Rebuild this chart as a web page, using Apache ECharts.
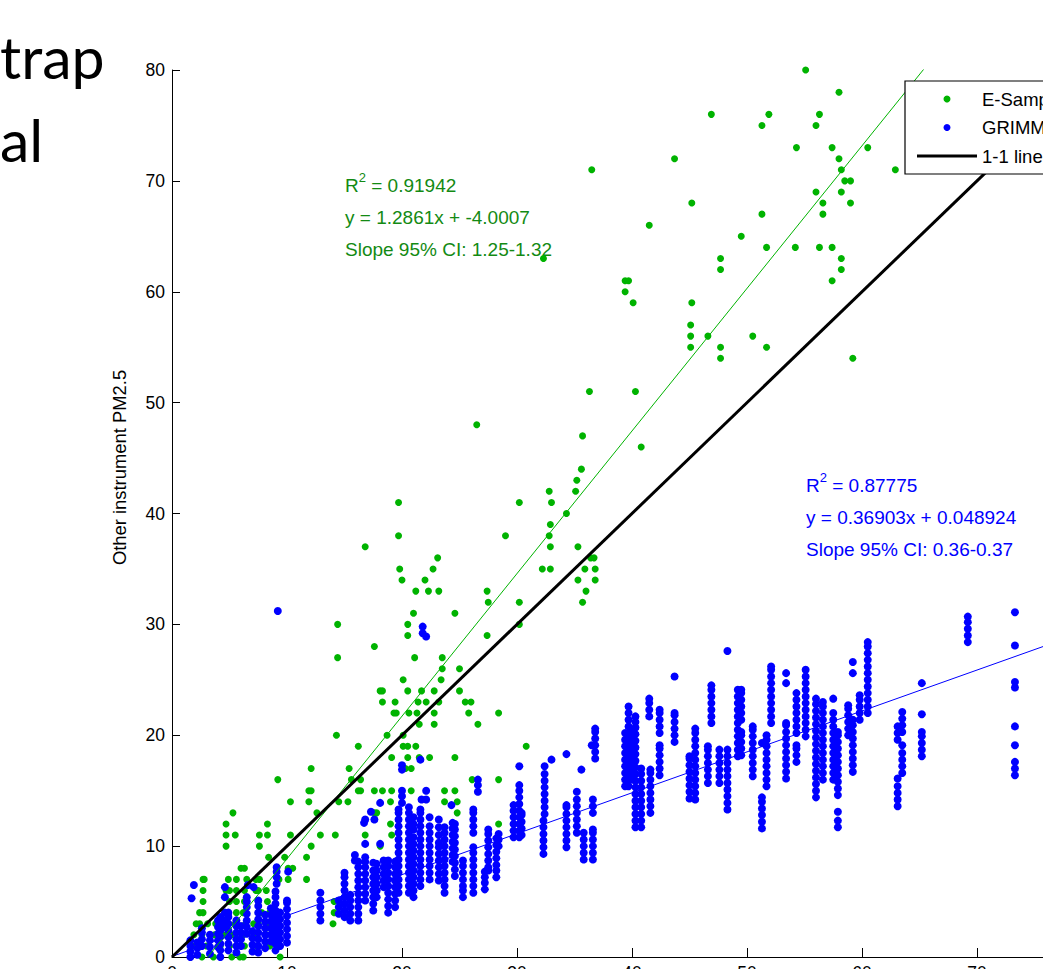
<!DOCTYPE html>
<html>
<head>
<meta charset="utf-8">
<script src="https://cdn.jsdelivr.net/npm/echarts@6/dist/echarts.min.js"></script>
<style>
  html, body { margin: 0; padding: 0; background: #fff; }
  #main { width: 1043px; height: 969px; }
</style>
</head>
<body>
<div id="main"></div>
<script>
// E-Sampler readings are whole numbers: [y, [x values on that row]]
var esamplerRows = [
  [0, [1.6, 2.6, 3.6, 5.2, 5.9, 6.2, 9.4]],
  [1, [2.0, 3.0, 4.2, 5.0, 6.3, 7.4, 8.5]],
  [2, [1.9, 2.6, 3.7, 4.5, 5.2, 6.2, 7.2, 8.2, 9.1]],
  [3, [2.1, 2.4, 3.1, 3.8, 4.6, 4.9, 5.5, 6.4, 7.1, 7.5, 8.3, 9.0, 14.0]],
  [4, [2.4, 2.7, 4.8, 4.9, 5.6, 6.2, 7.5, 7.8, 8.5, 9.2, 14.1]],
  [5, [2.7, 5.0, 5.6, 6.3, 7.5, 8.3, 14.1]],
  [6, [2.7, 4.7, 5.0, 5.6, 6.3, 7.3, 7.5, 8.2]],
  [7, [2.7, 2.8, 4.9, 5.6, 6.5, 7.3, 7.6, 9.3, 10.1, 11.7]],
  [8, [6.0, 6.3, 10.1, 10.5]],
  [9, [8.4, 9.8, 11.7]],
  [10, [4.7, 7.6, 12.1, 18.1]],
  [11, [4.7, 5.5, 7.6, 8.3, 10.3, 12.9, 14.2, 16.8, 19.1]],
  [12, [4.7, 8.3, 19.0, 28.4]],
  [13, [5.3, 12.6, 17.6, 17.8, 24.8]],
  [14, [10.3, 11.9, 14.5, 15.3, 19.0, 23.7, 24.8]],
  [15, [11.9, 12.1, 16.2, 16.4, 17.6, 18.3, 19.1, 20.8, 23.7, 24.6]],
  [16, [9.2, 15.6, 16.4, 26.1, 28.4]],
  [17, [12.1, 15.4, 20.3, 20.8]],
  [18, [19.1, 20.5, 21.5, 22.4, 24.6]],
  [19, [16.2, 20.1, 20.5, 21.2, 30.8]],
  [20, [14.3, 18.7, 20.1]],
  [21, [21.5, 22.8, 26.6]],
  [22, [19.3, 19.5, 20.6, 21.3, 22.8, 25.8, 28.4]],
  [23, [18.3, 19.4, 21.4, 22.1, 23.2, 25.5, 26.0]],
  [24, [18.1, 18.3, 20.5, 21.7, 22.8, 25.0]],
  [25, [20.1, 23.4]],
  [26, [23.5, 25.0]],
  [27, [14.4, 21.1, 23.5]],
  [28, [17.6]],
  [29, [20.5, 27.4]],
  [30, [14.4, 20.5, 30.2]],
  [31, [21.0, 24.6]],
  [32, [27.5, 30.2, 35.7]],
  [33, [21.2, 22.3, 23.2, 27.4, 36.0]],
  [34, [20.0, 22.0, 35.3, 36.8]],
  [35, [19.8, 22.7, 32.2, 32.9, 35.9, 36.8]],
  [36, [23.1, 36.4, 36.7]],
  [37, [16.8, 32.9, 35.3]],
  [38, [19.7, 29.0, 32.8]],
  [39, [32.9]],
  [40, [34.3]],
  [41, [19.7, 30.2, 33.0]],
  [42, [32.8, 35.1]],
  [43, [35.2]],
  [44, [35.6]],
  [46, [40.8]],
  [47, [35.7]],
  [48, [26.5]],
  [51, [36.3, 40.3]],
  [54, [47.7, 59.2]],
  [55, [45.1, 47.7, 51.7]],
  [56, [45.1, 46.6, 50.5]],
  [57, [45.1]],
  [59, [40.1, 45.2]],
  [60, [39.4]],
  [61, [39.4, 39.7, 57.4]],
  [62, [47.7, 58.2]],
  [63, [32.3, 47.7, 58.2]],
  [64, [51.7, 54.2, 56.3, 57.4]],
  [65, [49.5]],
  [66, [41.5]],
  [67, [51.3, 56.6]],
  [68, [45.2, 56.6, 59.0]],
  [69, [56.0, 58.2]],
  [70, [58.5, 59.0]],
  [71, [36.5, 58.2, 62.9]],
  [72, [43.7, 58.0]],
  [73, [54.3, 57.4, 60.5]],
  [75, [51.3, 56.0]],
  [76, [46.9, 51.9, 56.3]],
  [78, [58.0]],
  [80, [55.1]]
];

// GRIMM readings stack up at each reference value: [x, [y values]]
var grimmCols = [
  [1.6, [0, 0.5, 1.0, 1.5]], [1.7, [5.3]], [1.9, [6.5]],
  [2.2, [0.2, 0.8, 1.3]], [2.6, [1.0, 1.6, 2.2, 2.6]], [3.3, [0.3, 0.9, 1.5, 2.0]],
  [4.0, [0.9, 1.5, 2.1, 2.7, 3.3]], [4.2, [0, 0.6, 1.2, 1.8, 2.4, 3.0, 3.6]],
  [4.6, [2.7, 3.3, 4.0, 5.4, 6.3]], [4.9, [0.6, 1.2, 1.8, 2.4, 3.0, 3.6, 4.0]],
  [5.6, [0.4, 1.0, 1.6, 2.2, 2.8, 3.3]], [6.0, [1.0, 1.6, 2.2, 2.8]],
  [6.5, [2.1, 2.7, 3.3, 3.9, 4.5, 5.0, 5.4]], [6.6, [6.5]], [7.1, [6.3]],
  [7.0, [0.5, 1.1, 1.7, 2.3]], [7.5, [0.4, 1.0, 1.6, 2.2, 2.8, 3.4, 4.0, 4.6, 5.1]],
  [8.1, [0.8, 1.4, 2.0, 2.6, 3.2, 3.8]], [8.6, [1.4, 2.0, 2.6, 3.2, 3.8, 4.4]],
  [9.0, [0.6, 1.2, 1.8, 2.4, 3.0, 3.6, 4.2, 4.8, 5.4, 5.9]], [9.1, [6.6, 7.2, 7.7, 8.1]],
  [9.2, [31.2]], [9.4, [1.0, 1.6, 2.2, 2.8, 3.4, 4.0]],
  [10.0, [1.3, 1.9, 2.5, 3.1, 3.7, 4.3, 4.9, 5.1]], [10.1, [7.7]],
  [12.9, [3.3, 3.9, 4.5, 5.1, 5.8]], [14.5, [3.9, 4.5, 5.1]],
  [15.0, [3.6, 4.2, 4.8, 5.4, 6.0, 6.6, 7.2, 7.6]], [15.5, [3.3, 3.9, 4.5, 5.1, 5.6]],
  [15.9, [8.7, 9.2]], [16.2, [3.3, 3.9, 4.5, 5.1, 5.7, 6.3, 6.9, 7.5, 8.1, 8.6]],
  [16.7, [12.1]], [16.8, [5.1, 5.7, 6.3, 6.9, 7.5, 8.1, 8.6, 9.0, 10.2, 12.4]],
  [17.3, [13.1]], [17.5, [4.2, 4.8, 5.4, 6.0, 6.6, 7.2, 7.8, 8.5]], [17.6, [12.4]],
  [17.8, [5.4, 6.0, 6.6, 7.2, 7.8, 8.4]], [18.1, [10.2, 13.9]],
  [18.4, [6.3, 6.9, 7.5, 8.1, 8.7]], [18.8, [4.0, 4.6, 5.2, 5.8, 6.4, 7.0, 7.6, 8.2, 8.7]],
  [19.4, [4.5, 5.1, 5.7, 6.3, 6.9, 7.5, 8.1, 8.6]],
  [19.7, [5.8, 6.4, 7.0, 7.6, 8.2, 8.8, 9.4, 10.0, 10.6, 11.2, 11.8, 12.4, 13.0, 13.3]],
  [20.0, [13.9, 14.5, 15.0, 16.9, 17.3]],
  [20.6, [5.8, 6.4, 7.0, 7.6, 8.2, 8.8, 9.4, 10.0, 10.6, 11.2, 11.8, 12.4, 13.0, 13.5]],
  [21.0, [5.4, 6.0, 6.6, 7.2, 7.8, 8.4, 9.0, 9.6, 10.2, 10.8, 11.5, 12.0, 12.6]],
  [21.6, [6.4, 7.0, 7.6, 8.2, 8.8, 9.4, 10.0, 10.6, 11.2, 11.8, 12.4, 13.0, 13.3, 17.8]],
  [21.7, [14.2]], [21.8, [29.2, 29.8]], [22.1, [14.2, 15.0, 28.9]],
  [22.4, [7.0, 7.6, 8.2, 8.8, 9.4, 10.0, 10.6, 11.2, 11.8, 12.6]],
  [23.2, [6.9, 7.5, 8.1, 8.7, 9.3, 9.9, 10.3, 11.0, 11.7, 12.4]],
  [23.7, [5.8, 6.4, 7.0, 7.6, 8.2, 8.8, 9.4, 10.0, 10.6, 11.2, 11.7]],
  [24.3, [13.7]], [24.4, [8.6, 9.2, 9.8, 10.4, 11.0, 11.6, 12.1]],
  [24.6, [7.3, 7.9, 8.5, 9.1, 9.7, 10.3, 10.9, 11.5, 12.0]],
  [25.3, [5.4, 6.0, 6.4, 7.0, 7.6, 8.2, 8.7]],
  [26.2, [5.8, 6.4, 7.0, 7.6, 8.2, 8.8, 9.4, 9.9, 11.2, 11.8, 12.4, 13.0, 13.3]],
  [26.6, [14.9, 15.5, 16.0]], [27.2, [6.1, 6.7, 7.2, 7.7]],
  [27.5, [7.8, 8.1, 8.7, 9.3, 9.9, 10.5, 11.1, 11.5]],
  [28.2, [7.2, 7.8, 8.3, 8.9, 9.5, 10.1, 10.7]], [28.4, [10.0, 10.6, 11.1]],
  [29.7, [10.8, 11.4, 12.0, 12.6, 13.2, 13.7]],
  [30.2, [10.8, 11.4, 12.0, 12.6, 13.2, 13.8, 14.4, 15.0, 15.5, 17.2]],
  [30.4, [11.0, 11.6, 12.2, 12.8, 13.0]],
  [32.3, [9.3, 9.9, 10.5, 11.1, 11.7, 12.3]],
  [32.4, [12.9, 13.5, 14.1, 14.7, 15.3, 15.9, 16.5, 17.2]], [33.0, [17.8]],
  [34.3, [9.9, 10.5, 11.1, 11.7, 12.3, 12.9, 13.5, 13.7, 18.3]],
  [35.2, [11.2, 11.8, 12.4, 13.0, 13.6, 14.2, 14.9]], [35.6, [16.9]],
  [35.8, [8.8, 9.4, 10.0, 10.6, 11.2]], [36.5, [19.1]],
  [36.6, [8.8, 9.4, 10.0, 10.6, 11.2, 11.5, 13.0, 13.6, 14.2]],
  [36.8, [17.9, 18.5, 19.1, 19.7, 20.3, 20.6]],
  [39.4, [15.4, 16.0, 16.6, 17.2, 17.8, 18.4, 19.0, 19.6, 20.2]],
  [39.7, [15.4, 16.0, 16.6, 17.2, 17.8, 18.4, 19.0, 19.6, 20.2, 20.8, 21.4, 22.0, 22.6]],
  [40.0, [16.0, 16.6, 17.2, 17.8, 18.4, 19.0, 19.6, 20.2, 20.5]],
  [40.3, [11.7, 12.3, 12.9, 13.5, 14.1, 14.7, 15.3, 15.9, 16.5, 17.1, 17.7, 18.3, 18.9, 19.5, 20.1, 20.7, 21.2, 21.7]],
  [40.8, [11.7, 12.3, 12.9, 13.5, 14.1, 14.7, 15.3, 15.9, 16.5, 17.0]],
  [41.5, [21.7, 22.3, 22.9, 23.3]],
  [41.6, [13.0, 13.6, 14.2, 14.8, 15.4, 16.0, 16.6, 16.9]],
  [42.4, [16.4, 17.0, 17.6, 18.2, 18.8, 19.1, 20.2, 20.8, 21.4, 22.0, 22.3]],
  [43.7, [19.4, 20.0, 20.6, 21.2, 21.8, 22.0, 25.3]],
  [45.0, [14.3, 14.9, 15.5, 16.1, 16.7, 17.3, 17.9, 18.1]],
  [45.5, [14.2, 14.8, 15.4, 16.0, 16.6, 17.2, 17.8, 18.4, 19.0, 19.6, 20.2, 20.6]],
  [46.6, [15.7, 16.3, 16.9, 17.5, 18.1, 18.7, 19.0]],
  [46.9, [21.1, 21.7, 22.3, 22.9, 23.5, 24.1, 24.5]],
  [47.6, [15.7, 16.3, 16.9, 17.5, 18.1, 18.7]],
  [48.3, [13.3, 13.9, 14.5, 15.1, 15.7, 16.3, 16.9, 17.5, 18.1, 18.7, 27.6]],
  [49.2, [18.1, 18.7, 19.3, 19.9, 20.5, 21.1, 21.7, 22.3, 22.9, 23.5, 24.1]],
  [49.5, [18.2, 18.8, 19.4, 20.0, 20.3, 21.4, 22.0, 22.6, 23.2, 23.8, 24.1]],
  [50.5, [16.3, 16.9, 17.5, 18.1, 18.7, 19.3, 19.9, 20.5, 20.8]],
  [51.3, [11.6, 12.2, 12.8, 13.4, 14.0, 14.4, 19.3]],
  [51.7, [15.4, 16.0, 16.6, 17.2, 17.8, 18.4, 19.0, 19.6, 20.0]],
  [52.1, [21.1, 21.7, 22.3, 22.9, 23.5, 24.1, 24.7, 25.3, 25.9, 26.2]],
  [53.4, [16.1, 16.7, 17.3, 17.9, 18.5, 19.1, 19.7, 20.3, 20.9, 21.1, 24.7, 25.6]],
  [54.3, [17.6, 18.2, 18.8, 19.1, 20.2, 20.8, 21.4, 22.0, 22.6, 23.2, 23.8]],
  [55.1, [19.9, 20.5, 21.1, 21.7, 22.3, 22.9, 23.5, 24.1, 24.7, 25.3, 25.9]],
  [56.0, [14.4, 15.0, 15.6, 16.2, 16.8, 17.4, 18.0, 18.6, 19.2, 19.8, 20.4, 21.0, 21.6, 22.2, 22.8, 23.3]],
  [56.6, [16.0, 16.6, 17.2, 17.8, 18.4, 19.0, 19.6, 20.2, 20.8, 21.4, 22.0, 22.6, 23.0]],
  [57.5, [16.0, 16.6, 17.2, 17.8, 18.4, 19.0, 19.6, 20.2, 20.8, 21.4, 22.0, 23.3]],
  [57.9, [11.7, 12.3, 13.1, 14.6, 15.2, 15.8, 16.4, 17.0, 17.6, 18.2, 18.8, 19.4, 20.0, 20.3]],
  [58.8, [20.0, 20.6, 21.2, 21.8, 22.4, 22.7]],
  [59.2, [16.7, 17.3, 17.9, 18.5, 19.1, 19.7, 20.3, 20.9, 21.4, 25.6, 26.6]],
  [59.8, [21.4, 22.0, 22.6, 23.2, 23.6]],
  [60.5, [22.0, 22.6, 23.2, 23.8, 24.4, 25.0, 25.6, 26.2, 26.8, 27.4, 28.0, 28.4]],
  [63.1, [13.6, 14.2, 14.8, 15.4, 16.1, 19.6, 20.2, 20.8]],
  [63.5, [16.6, 17.2, 17.8, 18.4, 19.1, 20.3, 20.9, 21.5, 22.1]],
  [65.2, [18.1, 18.7, 19.3, 19.9, 20.3, 21.9, 24.7]],
  [69.2, [28.4, 29.0, 29.6, 30.2, 30.7]],
  [73.3, [16.4, 17.0, 17.6, 19.1, 20.8, 24.3, 24.8, 28.1, 31.1]]
];

// linear fits written on the chart: [slope, intercept]
var esamplerFit = [1.2861, -4.0007];
var grimmFit = [0.36903, 0.048924];
var axisTicks = [0, 10, 20, 30, 40, 50, 60, 70, 80];

var esamplerPts = [];
esamplerRows.forEach(function (r) {
  r[1].forEach(function (x) { esamplerPts.push([x, r[0]]); });
});
var grimmPts = [];
grimmCols.forEach(function (c) {
  c[1].forEach(function (y) { grimmPts.push([c[0], y]); });
});
function fitLine(f) {
  var x0 = axisTicks[0], x1 = axisTicks[axisTicks.length - 1];
  return [[x0, f[0] * x0 + f[1]], [x1, f[0] * x1 + f[1]]];
}

var green = '#00b300';
var greenText = '#138a13';
var blue = '#0000ff';
var font = 'Liberation Sans, Arial, sans-serif';

var myChart = echarts.init(document.getElementById('main'), null, {renderer: 'svg'});
myChart.setOption({
  animation: false,
  backgroundColor: '#fff',
  textStyle: {fontFamily: font},
  grid: {left: 172, top: 70, width: 920, height: 887, outerBoundsMode: 'none'},
  xAxis: {
    type: 'value', min: 0, max: 80, interval: 10,
    axisLine: {onZero: false, lineStyle: {color: '#000', width: 1}},
    axisTick: {inside: true, length: 9, lineStyle: {color: '#000'}},
    axisLabel: {color: '#000', fontSize: 17.5, margin: 7, fontFamily: font},
    splitLine: {show: false}
  },
  yAxis: {
    type: 'value', min: 0, max: 80, interval: 10,
    name: 'Other instrument PM2.5',
    nameLocation: 'middle', nameGap: 44, nameRotate: 90,
    nameTextStyle: {color: '#000', fontSize: 18.4, fontFamily: font, padding: [0, 0, 0, 92]},
    axisLine: {onZero: false, lineStyle: {color: '#000', width: 1}},
    axisTick: {inside: true, length: 8, lineStyle: {color: '#000'}},
    axisLabel: {color: '#000', fontSize: 17.5, margin: 7, fontFamily: font},
    splitLine: {show: false}
  },
  legend: {
    data: ['E-Sampler', 'GRIMM', {name: '1-1 line', icon: 'path://M0,0H60V3H0Z'}],
    orient: 'vertical', left: 905, top: 81, z: 20,
    padding: [8, 80, 8, 12],
    itemWidth: 60, itemHeight: 7, itemGap: 8.5, itemTextGap: 8,
    borderColor: '#000', borderWidth: 1.2, backgroundColor: '#fff',
    textStyle: {color: '#000', fontSize: 18.5, lineHeight: 20, fontFamily: font}
  },
  graphic: [
    {type: 'text', left: 0, top: 27, style: {text: 'trap', fontFamily: 'Lato', fontSize: 59, fill: '#000'}},
    {type: 'text', left: 0, top: 110, style: {text: 'al', fontFamily: 'Lato', fontSize: 59, fill: '#000'}},
    {type: 'text', left: 345, top: 171, style: {
      text: '{r|R}{s|2}{r| = 0.91942}\n{r|y = 1.2861x + -4.0007}\n{r|Slope 95% CI: 1.25-1.32}',
      fill: greenText, fontFamily: font,
      rich: {r: {fontSize: 19, lineHeight: 32, fill: greenText, fontFamily: font},
             s: {fontSize: 13, lineHeight: 32, fill: greenText, fontFamily: font, padding: [0, 0, 16, 0]}}
    }},
    {type: 'text', left: 806, top: 471, style: {
      text: '{r|R}{s|2}{r| = 0.87775}\n{r|y = 0.36903x + 0.048924}\n{r|Slope 95% CI: 0.36-0.37}',
      fill: blue, fontFamily: font,
      rich: {r: {fontSize: 19, lineHeight: 32, fill: blue, fontFamily: font},
             s: {fontSize: 13, lineHeight: 32, fill: blue, fontFamily: font, padding: [0, 0, 16, 0]}}
    }}
  ],
  series: [{
    name: 'E-Sampler', type: 'scatter', symbol: 'circle', symbolSize: 7,
    itemStyle: {color: green, opacity: 1}, data: esamplerPts, z: 2
  }, {
    name: 'GRIMM', type: 'scatter', symbol: 'circle', symbolSize: 8,
    itemStyle: {color: blue, opacity: 1}, data: grimmPts, z: 3
  }, {
    name: 'E-Sampler fit', type: 'line', data: fitLine(esamplerFit), symbol: 'none',
    clip: true, lineStyle: {color: green, width: 1}, itemStyle: {color: green}, z: 4
  }, {
    name: 'GRIMM fit', type: 'line', data: fitLine(grimmFit), symbol: 'none',
    clip: true, lineStyle: {color: blue, width: 1}, itemStyle: {color: blue}, z: 4
  }, {
    name: '1-1 line', type: 'line', data: [[axisTicks[0], axisTicks[0]], [axisTicks[8], axisTicks[8]]],
    symbol: 'none', clip: true, lineStyle: {color: '#000', width: 3}, itemStyle: {color: '#000'}, z: 5
  }]
});
</script>
</body>
</html>
